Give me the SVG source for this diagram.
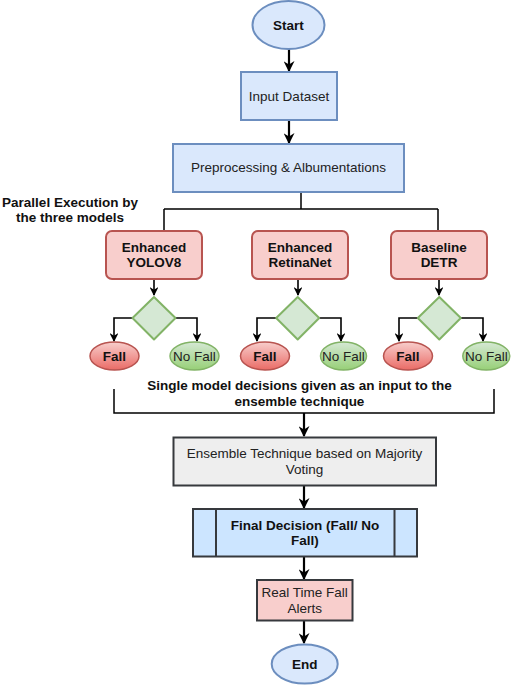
<svg xmlns="http://www.w3.org/2000/svg" width="512" height="685" viewBox="0 0 512 685">
<defs>
<style>
text{font-family:"Liberation Sans",Arial,sans-serif;font-size:13.5px;fill:#222;text-anchor:middle}
.b{font-weight:bold;fill:#111}
.blue{fill:#dae8fc;stroke:#6c8ebf;stroke-width:2}
.red{fill:#f8cecc;stroke:#b85450;stroke-width:2}
.dia{fill:#d5e8d4;stroke:#82b366;stroke-width:2}
.dark{stroke:#36393d;stroke-width:2}
.ln{fill:none;stroke:#000;stroke-width:1.5}
.ar{fill:none;stroke:#000;stroke-width:2.2;marker-end:url(#ah)}
.ar1{fill:none;stroke:#000;stroke-width:1.6;marker-end:url(#ah2)}
</style>
<marker id="ah" viewBox="0 0 10 10" refX="9" refY="5" markerWidth="5" markerHeight="5" orient="auto" markerUnits="strokeWidth">
<path d="M0,0 L10,5 L0,10 L3,5 z" fill="#000"/>
</marker>
<marker id="ah2" viewBox="0 0 10 10" refX="9" refY="5" markerWidth="5.5" markerHeight="5.5" orient="auto" markerUnits="strokeWidth">
<path d="M0,0 L10,5 L0,10 L3,5 z" fill="#000"/>
</marker>
<linearGradient id="gr" x1="0" y1="0" x2="0" y2="1"><stop offset="0" stop-color="#f8cecc"/><stop offset="1" stop-color="#ea6b66"/></linearGradient>
<linearGradient id="gg" x1="0" y1="0" x2="0" y2="1"><stop offset="0" stop-color="#d5e8d4"/><stop offset="1" stop-color="#97d077"/></linearGradient>
</defs>
<rect width="512" height="685" fill="#fff"/>

<g id="connectors">
<path class="ar" d="M289,49 V71"/>
<path class="ar" d="M289,120 V143"/>
<path class="ln" d="M301,192 V209 M164,209 H438 M164,209 V231 M438,209 V231"/>
<path class="ar1" d="M154,279 V295"/>
<path class="ar1" d="M298,279 V295"/>
<path class="ar1" d="M439,279 V295"/>
<path class="ar1" d="M133,318 H114 V341"/>
<path class="ar1" d="M176,318 H197 V341"/>
<path class="ar1" d="M276,318 H257 V341"/>
<path class="ar1" d="M319,318 H341 V341"/>
<path class="ar1" d="M418,318 H399 V341"/>
<path class="ar1" d="M461,318 H483 V341"/>
<path class="ln" d="M114,389 V413 H494 V389"/>
<path class="ar" d="M304,413 V436"/>
<path class="ar" d="M304,485 V508"/>
<path class="ar" d="M304,557 V579"/>
<path class="ar" d="M304,621 V643"/>
</g>

<g id="start"><ellipse class="blue" cx="288.5" cy="25" rx="36" ry="24"/><text class="b" x="288.5" y="30">Start</text></g>
<g id="input"><rect class="blue" x="241" y="72" width="96" height="48"/><text x="289" y="101">Input Dataset</text></g>
<g id="prep"><rect class="blue" x="173" y="144" width="231" height="48"/><text x="288.5" y="172">Preprocessing &amp; Albumentations</text></g>
<g id="parallel-label"><text class="b" x="70" y="207">Parallel Execution by</text><text class="b" x="70" y="222">the three models</text></g>

<g id="yolo"><rect class="red" x="106" y="231" width="96" height="48" rx="6"/><text class="b" x="154" y="252">Enhanced</text><text class="b" x="154" y="267">YOLOV8</text></g>
<g id="retina"><rect class="red" x="252" y="231" width="96" height="48" rx="6"/><text class="b" x="300" y="252">Enhanced</text><text class="b" x="300" y="267">RetinaNet</text></g>
<g id="detr"><rect class="red" x="391" y="231" width="96" height="48" rx="6"/><text class="b" x="439" y="252">Baseline</text><text class="b" x="439" y="267">DETR</text></g>

<g id="d1"><path class="dia" d="M154,297 L175.5,318 L154,339.5 L132.5,318 Z" stroke-linejoin="round"/></g>
<g id="d2"><path class="dia" d="M297.7,297 L319.2,318 L297.7,339.5 L276.2,318 Z" stroke-linejoin="round"/></g>
<g id="d3"><path class="dia" d="M439.3,297 L460.8,318 L439.3,339.5 L417.8,318 Z" stroke-linejoin="round"/></g>

<g id="fall1"><ellipse cx="114.5" cy="356" rx="24.5" ry="14" fill="url(#gr)" stroke="#b85450" stroke-width="1.5"/><text class="b" x="114.5" y="361">Fall</text></g>
<g id="nofall1"><ellipse cx="194.5" cy="356" rx="24.5" ry="14" fill="url(#gg)" stroke="#82b366" stroke-width="1.5"/><text x="194.5" y="361">No Fall</text></g>
<g id="fall2"><ellipse cx="265" cy="356" rx="24.5" ry="14" fill="url(#gr)" stroke="#b85450" stroke-width="1.5"/><text class="b" x="265" y="361">Fall</text></g>
<g id="nofall2"><ellipse cx="343.5" cy="356" rx="23" ry="14" fill="url(#gg)" stroke="#82b366" stroke-width="1.5"/><text x="343.5" y="361">No Fall</text></g>
<g id="fall3"><ellipse cx="408" cy="356" rx="24.5" ry="14" fill="url(#gr)" stroke="#b85450" stroke-width="1.5"/><text class="b" x="408" y="361">Fall</text></g>
<g id="nofall3"><ellipse cx="486.3" cy="356" rx="23.5" ry="14" fill="url(#gg)" stroke="#82b366" stroke-width="1.5"/><text x="486.3" y="361">No Fall</text></g>

<g id="single-label"><text class="b" x="299.5" y="390">Single model decisions given as an input to the</text><text class="b" x="299.5" y="405.5">ensemble technique</text></g>

<g id="ensemble"><rect class="dark" fill="#eeeeee" x="173.5" y="437.5" width="262.5" height="48"/><text x="304.5" y="458">Ensemble Technique based on Majority</text><text x="304.5" y="474">Voting</text></g>
<g id="final"><rect class="dark" fill="#cce5ff" x="193" y="509" width="224" height="47.5"/><path class="dark" d="M216,509 V556.5 M394.5,509 V556.5"/><text class="b" x="305" y="529.5">Final Decision (Fall/ No</text><text class="b" x="305" y="545">Fall)</text></g>
<g id="alerts"><rect class="dark" fill="#f8cecc" x="257" y="580" width="95.5" height="40.5"/><text x="304.7" y="597">Real Time Fall</text><text x="304.7" y="613">Alerts</text></g>
<g id="end"><ellipse class="blue" cx="304.7" cy="664" rx="33" ry="19.5"/><text class="b" x="304.7" y="668.5">End</text></g>
</svg>
